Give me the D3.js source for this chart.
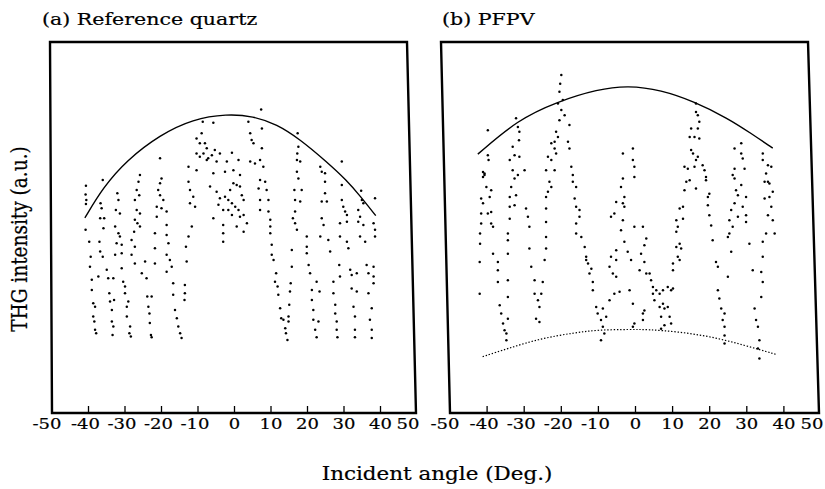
<!DOCTYPE html>
<html>
<head>
<meta charset="utf-8">
<script src="https://cdn.jsdelivr.net/npm/d3@7"></script>
<style>
  body { margin: 0; background: #fff; }
  svg { display: block; }
</style>
</head>
<body>
<svg id="chart" width="825" height="489"></svg>
<script>
// angle ticks shared by both panels
const xTicks = [-50, -40, -30, -20, -10, 0, 10, 20, 30, 40, 50];

// envelope curves, [angle, intensity a.u.]
const quartzEnvelope = [[-41.0,52.3],[-36.0,60.5],[-29.5,67.8],[-20.4,74.6],[-11.4,78.8],[-2.1,80.2],
  [5.1,79.6],[11.6,77.4],[17.9,73.4],[25.3,67.3],[30.8,62.3],[34.4,58.2],[38.7,52.9]];
const pfpvEnvelope = [[-42.5,69.4],[-31.8,78.6],[-21.0,83.5],[-10.2,86.8],[-2.0,87.8],[6.9,86.6],
  [15.8,83.5],[24.9,79.0],[31.1,75.0],[37.0,71.0]];
const pfpvBaseline = [[-41.2,15.1],[-34.4,17.3],[-25.5,20.0],[-16.5,21.5],[-10.2,22.3],[-1.2,22.4],
  [3.3,22.4],[11.4,21.8],[20.4,20.5],[29.3,18.2],[37.9,15.7]];

// measured THG points (Maker fringes)
const quartzPoints = [
  [-40.7,60.9],[-40.8,58.6],[-40.6,57.1],[-40.7,56.0],[-40.8,49.1],[-39.8,45.9],[-39.4,41.9],[-39.6,39.2],[-39.1,35.7],[-39.1,33.0],[-38.7,29.4],[-38.2,28.5],[-38.7,25.9],[-38.4,24.5],[-37.9,21.4],[-38.2,22.3],
  [-36.1,62.5],[-36.7,56.2],[-36.4,54.9],[-35.7,52.2],[-36.8,52.2],[-35.9,49.5],[-37.0,45.9],[-36.8,43.3],[-36.1,41.9],[-35.0,38.4],[-37.3,36.6],[-34.6,36.1],[-34.3,32.1],[-34.1,29.9],[-33.0,30.3],[-33.6,27.6],[-33.6,24.5],[-33.2,23.2],[-33.4,20.9],
  [-32.1,58.9],[-31.8,57.1],[-32.5,54.4],[-31.4,53.5],[-32.7,50.0],[-31.8,48.2],[-31.4,47.3],[-32.3,45.5],[-30.9,45.1],[-32.7,42.4],[-30.9,42.8],[-30.9,38.8],[-33.2,36.1],[-30.5,35.2],[-30.0,33.9],[-30.0,32.1],[-29.1,29.9],[-29.5,28.5],[-29.5,25.9],[-28.6,23.2],[-28.8,21.4],[-28.4,20.5],
  [-25.9,63.8],[-26.3,62.0],[-26.8,59.8],[-26.1,58.4],[-27.3,57.1],[-26.8,54.4],[-25.9,53.5],[-27.3,51.8],[-26.6,50.9],[-25.9,50.0],[-27.5,48.6],[-28.2,46.4],[-27.3,44.6],[-28.2,42.4],[-27.3,40.1],[-24.5,40.6],[-25.4,37.5],[-24.1,36.1],[-23.9,31.2],[-22.7,31.2],[-23.6,28.5],[-23.3,26.7],[-23.2,24.1],[-22.9,20.9],[-22.7,20.3],
  [-20.4,68.3],[-20.0,62.9],[-20.4,61.6],[-20.9,59.8],[-20.4,58.4],[-19.5,57.1],[-21.3,55.3],[-20.0,54.9],[-18.6,54.0],[-21.3,52.6],[-18.6,50.4],[-21.8,48.2],[-18.6,47.7],[-18.1,45.5],[-21.8,44.2],[-18.6,42.4],[-21.8,40.1],[-17.7,41.0],[-17.2,39.2],[-18.6,37.9],[-16.8,34.8],[-16.8,31.7],[-16.3,27.6],[-15.8,25.4],[-15.4,23.2],[-14.9,21.4],[-14.5,20.1],[-13.6,34.3],[-13.6,32.1],[-13.7,30.3],
  [-12.6,66.0],[-10.4,65.1],[-12.6,62.0],[-12.2,59.8],[-11.3,58.0],[-12.2,56.2],[-10.8,55.3],[-11.7,50.0],[-12.6,47.3],[-13.3,44.6],[-13.1,40.6],
  [-8.7,78.1],[-5.8,77.8],[-9.0,75.0],[-10.4,73.6],[-9.5,72.3],[-7.6,71.0],[-8.5,69.6],[-9.5,68.7],[-7.2,68.3],[-5.4,70.5],[-4.0,69.6],[-10.4,69.6],[-4.9,67.4],[-5.8,64.3],[-6.7,60.7],[-4.9,59.3],[-4.0,57.6],[-4.4,55.8],[-3.1,54.4],[-5.8,52.2],[-3.1,50.4],[-3.1,48.2],[-3.1,45.9],[-8.1,72.3],[-6.2,69.1],[-7.6,67.8],
  [-0.7,69.8],[-2.1,67.4],[1.1,67.8],[-2.6,64.7],[-0.3,65.1],[1.5,63.8],[-0.3,61.6],[0.6,61.1],[-2.6,58.0],[-1.7,57.1],[-0.7,56.2],[0.2,55.3],[2.0,58.4],[2.5,57.1],[1.1,54.4],[-0.7,53.1],[2.5,53.1],[0.6,50.0],[3.4,50.9],[2.5,48.6],[-1.2,59.8],[1.5,60.7],[-1.7,54.4],[1.5,52.6],
  [3.8,78.1],[4.3,75.0],[4.7,73.2],[5.2,72.3],[4.3,67.4],[5.6,66.9],[7.5,76.3],[7.5,71.0],[7.0,67.8],[7.9,66.0],[7.0,62.5],[8.4,62.0],[6.6,60.2],[8.8,59.8],[7.0,57.1],[9.3,57.1],[7.0,54.4],[9.3,54.0],[9.8,51.8],[9.8,50.0],[9.8,48.2],[10.2,45.1],[10.2,42.4],[10.7,41.0],[11.4,37.5],[11.1,35.2],[11.8,33.9],[12.0,31.7],[12.5,28.1],[12.8,25.4],[13.4,25.0],[13.9,22.7],[14.1,21.4],[14.5,19.6],[14.8,25.9],[7.3,81.4],
  [17.3,75.0],[17.5,71.4],[17.2,69.6],[17.1,67.8],[18.0,67.4],[17.1,64.7],[17.5,62.9],[16.4,59.8],[18.4,59.8],[16.6,57.1],[18.0,56.7],[16.6,54.0],[16.0,52.2],[16.6,50.9],[17.1,49.1],[15.7,43.7],[15.7,39.2],[15.4,34.8],[15.2,32.6],[15.0,29.0],[14.8,24.5],
  [19.8,47.3],[19.8,44.6],[19.8,42.8],[20.3,39.7],[20.7,37.5],[21.2,33.0],[21.2,30.3],[21.6,27.6],[21.6,25.0],[22.1,22.3],[22.5,20.3],[23.0,24.5],[22.5,35.2],[23.3,32.6],
  [23.5,66.0],[23.9,64.7],[24.8,64.3],[24.8,62.0],[24.8,58.9],[23.9,56.7],[25.3,56.7],[23.9,52.2],[24.4,50.4],[23.5,47.3],[25.7,46.4],[26.2,43.3],[27.1,35.2],[27.1,32.1],[27.6,29.0],[27.6,26.7],[28.0,24.5],[28.0,22.3],[28.2,20.3],[28.9,36.6],[29.4,67.4],[28.7,39.7],
  [29.4,61.1],[29.4,57.1],[29.8,55.3],[30.3,54.0],[30.8,53.1],[28.9,50.9],[30.8,51.3],[28.9,47.3],[30.8,45.9],[31.2,44.2],[31.7,38.4],[32.1,37.0],[33.5,37.5],[32.1,33.4],[32.6,28.5],[33.0,25.9],[33.0,22.3],[33.0,20.3],[33.5,32.6],[34.7,59.6],[34.9,57.1],[35.3,56.2],
  [33.9,54.4],[34.4,52.6],[33.9,51.3],[35.3,50.4],[34.4,47.3],[35.8,45.9],[38.5,57.6],[38.1,50.9],[38.5,49.1],[38.5,47.3],[36.2,39.7],[36.7,37.5],[38.1,39.2],[38.1,36.6],[38.1,34.8],[36.7,32.1],[37.6,28.1],[37.1,25.0],[37.6,22.3],[37.6,20.1]
];

const pfpvPoints = [
  [-39.8,75.8],[-39.8,69.1],[-39.6,67.8],[-40.7,64.2],[-41.1,63.3],[-40.2,60.6],[-38.9,59.7],[-41.6,57.5],[-39.3,57.9],[-41.1,56.2],[-39.8,53.5],[-38.9,53.9],[-41.6,53.5],[-38.9,50.8],[-38.4,49.9],[-41.6,50.8],[-41.9,48.1],[-41.9,45.4],[-38.4,42.7],[-42.0,40.5],[-37.1,40.5],[-37.1,38.3],[-37.1,35.1],[-42.0,32.0],[-36.6,28.9],[-36.2,26.7],[-35.7,24.0],[-35.3,22.2],[-34.8,21.3],[-34.8,19.5],[-34.4,25.3],[-40.7,63.8],[-41.1,64.6],
  [-32.2,79.0],[-31.7,76.7],[-31.3,75.4],[-31.4,73.1],[-33.1,71.4],[-32.6,69.1],[-31.3,68.7],[-33.9,67.8],[-33.1,65.1],[-31.7,63.8],[-29.9,65.1],[-32.6,62.9],[-33.5,60.6],[-33.9,57.9],[-32.2,58.4],[-32.6,55.7],[-33.9,55.3],[-29.5,54.8],[-29.0,52.6],[-28.6,49.9],[-33.9,52.1],[-34.4,48.1],[-34.4,46.3],[-34.4,42.7],[-28.6,44.1],[-28.1,39.2],[-27.2,35.6],[-27.2,32.0],[-26.3,30.2],[-25.9,28.4],[-25.4,32.0],[-25.0,35.1],[-26.8,25.3],[-25.9,24.4],[-34.4,35.6],[-34.4,31.1],
  [-20.0,90.6],[-20.3,88.3],[-20.5,86.1],[-19.6,83.9],[-20.9,83.0],[-20.0,81.2],[-19.1,79.8],[-20.5,78.5],[-21.4,75.4],[-20.9,74.0],[-21.8,72.7],[-22.7,72.3],[-21.8,70.9],[-21.4,69.6],[-23.6,68.7],[-22.7,67.8],[-24.1,65.1],[-21.8,65.1],[-23.2,62.0],[-22.7,60.6],[-23.6,59.3],[-24.1,57.9],[-24.1,54.8],[-24.1,51.2],[-24.1,47.2],[-24.1,44.1],[-24.5,41.0],
  [-17.8,77.2],[-18.2,72.7],[-17.8,70.9],[-17.3,66.0],[-16.9,63.8],[-16.9,62.0],[-16.0,60.6],[-16.4,57.5],[-16.0,55.3],[-15.1,54.4],[-15.1,52.6],[-16.0,50.8],[-16.0,48.1],[-14.6,47.2],[-13.7,44.5],[-13.3,41.9],[-12.8,40.1],[-12.4,37.4],[-11.5,35.1],[-11.5,32.9],[-13.3,41.0],[-11.9,38.7],
  [-10.6,28.4],[-10.2,26.7],[-9.3,24.9],[-8.8,23.1],[-8.4,21.3],[-9.3,19.5],[-7.9,25.8],[-8.8,28.0],[-7.0,30.2],[-5.7,32.0],
  [-5.2,56.6],[-5.7,53.5],[-6.6,52.6],[-5.2,43.6],[-6.6,41.9],[-5.2,41.0],[-7.0,39.2],[-6.1,37.4],[-5.2,36.5],
  [-3.4,69.6],[-0.7,70.9],[-0.7,67.8],[-0.3,66.0],[-0.3,63.3],[-3.4,62.9],[-3.9,60.6],[-3.0,57.9],[-3.0,55.3],[-3.4,56.2],[-3.4,51.7],[-3.9,49.0],[-3.0,45.9],[-2.1,43.2],[-1.2,41.0],[-4.3,32.5],[-1.6,32.9],[-0.7,29.3],[-0.3,24.0],[-0.7,23.1],
  [-0.3,49.9],[2.0,49.9],[2.9,46.8],[2.4,45.0],[1.5,42.7],[2.4,40.5],[1.1,38.3],[2.9,37.4],[3.8,37.4],[4.2,35.6],[4.7,33.8],[5.6,32.9],[6.5,32.0],[7.4,32.9],[8.7,33.8],[9.6,32.9],[10.1,33.4],[4.7,32.0],[5.1,30.2],[6.5,28.4],[7.4,29.3],[7.8,28.0],[8.7,28.4],[9.2,25.8],[6.9,25.8],[9.6,24.0],[6.9,22.6],[7.8,23.5],[2.0,24.9],[2.4,27.5],[2.0,26.7],
  [16.3,83.0],[16.3,80.7],[16.8,79.8],[17.2,78.1],[15.0,76.3],[16.8,76.3],[14.6,74.0],[15.9,74.0],[17.2,73.6],[15.0,70.5],[15.5,69.6],[16.8,68.7],[16.3,67.8],[13.2,66.0],[14.1,65.5],[15.9,66.0],[18.1,66.4],[18.6,65.1],[19.0,63.3],[13.7,62.0],[14.6,62.4],[13.2,59.7],[16.3,60.2],[19.0,62.4],[12.8,55.3],[11.9,54.8],[11.0,51.7],[12.8,52.1],[11.4,49.9],[11.0,48.6],[11.9,45.4],[11.0,44.5],[12.3,44.1],[11.4,41.9],[11.9,41.0],[10.1,38.3],[10.1,40.1],[19.9,58.8],[19.5,55.7],[19.9,53.0],[20.4,50.3],[20.8,46.3],[19.5,57.9],
  [26.7,70.9],[28.5,72.3],[28.5,69.6],[28.9,68.2],[26.7,65.5],[29.4,65.5],[26.2,63.8],[26.7,62.9],[28.5,61.1],[27.1,59.7],[27.6,58.4],[29.8,57.9],[26.7,56.2],[28.9,55.3],[25.8,54.4],[25.3,51.7],[27.6,52.6],[29.8,53.0],[26.2,49.9],[29.8,51.2],[25.3,48.1],[24.9,47.2],[25.8,43.2],[21.7,40.5],[22.2,39.2],[24.9,36.5],[22.2,32.9],[22.6,30.7],[23.1,28.0],[24.0,26.7],[23.5,24.9],[24.0,23.1],[24.0,20.8],[24.0,18.6],
  [34.3,69.6],[34.3,67.8],[35.7,66.4],[36.6,66.0],[35.2,64.2],[35.7,62.0],[36.1,61.5],[34.8,62.0],[37.0,59.3],[36.1,57.9],[34.8,57.5],[36.6,55.3],[35.7,53.0],[37.0,51.7],[35.2,48.1],[37.5,48.1],[34.3,45.9],[34.3,41.9],[33.9,37.8],[34.3,35.1],[33.9,31.1],[31.6,38.3],[30.7,45.4],[32.1,28.0],[32.5,24.9],[33.0,23.1],[33.4,19.5],[33.0,17.3],[33.4,14.6]
];

const svg = d3.select("#chart");
const font = "'DejaVu Serif', serif";
const frameTop = 42, frameBottom = 413;

const y = d3.scaleLinear().domain([0, 100]).range([frameBottom, 40]);

const panels = [
  { title: "(a) Reference quartz", titleX: 42,
    x: d3.scaleLinear().domain([-50, 50]).range([52, 417]),
    frame: [52, 416, 50, 407], // bottom-left, bottom-right, top-left, top-right
    points: quartzPoints, upper: quartzEnvelope, lower: null },
  { title: "(b) PFPV", titleX: 442,
    x: d3.scaleLinear().domain([-50, 50]).range([450, 821]),
    frame: [450, 819, 441, 808],
    points: pfpvPoints, upper: pfpvEnvelope, lower: pfpvBaseline }
];

function labelShift(v) {
  if (v === 50) return -9;
  if (v === -50) return -5;
  return v < 0 ? -3 : 0;
}

// scanned text looks a bit heavier than the plain font
function ink(sel) {
  return sel.attr("font-family", font)
    .attr("fill", "#000")
    .attr("stroke", "#000")
    .attr("stroke-width", 0.2);
}

panels.forEach(p => {
  const g = svg.append("g");
  const [bl, br, tl, tr] = p.frame;

  g.append("path")
    .attr("d", `M${bl},${frameBottom}L${tl},${frameTop}L${tr},${frameTop}L${br},${frameBottom}Z`)
    .attr("fill", "none")
    .attr("stroke", "#000")
    .attr("stroke-width", 2.4)
    .attr("stroke-linejoin", "miter");

  // small inward ticks on the bottom edge
  g.selectAll("line.tick")
    .data(xTicks.filter(v => Math.abs(v) < 50))
    .join("line")
    .attr("class", "tick")
    .attr("x1", d => p.x(d)).attr("x2", d => p.x(d))
    .attr("y1", frameBottom).attr("y2", frameBottom - 7)
    .attr("stroke", "#000")
    .attr("stroke-width", 1.3);

  g.selectAll("text.tl")
    .data(xTicks)
    .join("text")
    .attr("class", "tl")
    .attr("transform", d => `translate(${p.x(d) + labelShift(d)},429) scale(1.2,1)`)
    .attr("text-anchor", "middle")
    .attr("font-size", 15)
    .call(ink)
    .text(d => d);

  g.append("text")
    .attr("transform", `translate(${p.titleX},25) scale(1.21,1)`)
    .attr("font-size", 17)
    .call(ink)
    .text(p.title);

  const line = d3.line()
    .x(d => p.x(d[0]))
    .y(d => y(d[1]))
    .curve(d3.curveBasis);

  g.append("path")
    .attr("d", line(p.upper))
    .attr("fill", "none")
    .attr("stroke", "#000")
    .attr("stroke-width", 1.4);

  if (p.lower) {
    g.append("path")
      .attr("d", line(p.lower))
      .attr("fill", "none")
      .attr("stroke", "#000")
      .attr("stroke-width", 1.2)
      .attr("stroke-dasharray", "1.4,1.8");
  }

  g.selectAll("circle")
    .data(p.points)
    .join("circle")
    .attr("cx", d => p.x(d[0]))
    .attr("cy", d => y(d[1]))
    .attr("r", 1.25)
    .attr("fill", "#000");
});

svg.append("text")
  .attr("transform", "translate(27,239) rotate(-90) scale(1,1.22)")
  .attr("text-anchor", "middle")
  .attr("font-size", 18.5)
  .call(ink)
  .text("THG intensity (a.u.)");

svg.append("text")
  .attr("transform", "translate(437,480) scale(1.16,1)")
  .attr("text-anchor", "middle")
  .attr("font-size", 18.5)
  .call(ink)
  .text("Incident angle (Deg.)");
</script>
</body>
</html>
